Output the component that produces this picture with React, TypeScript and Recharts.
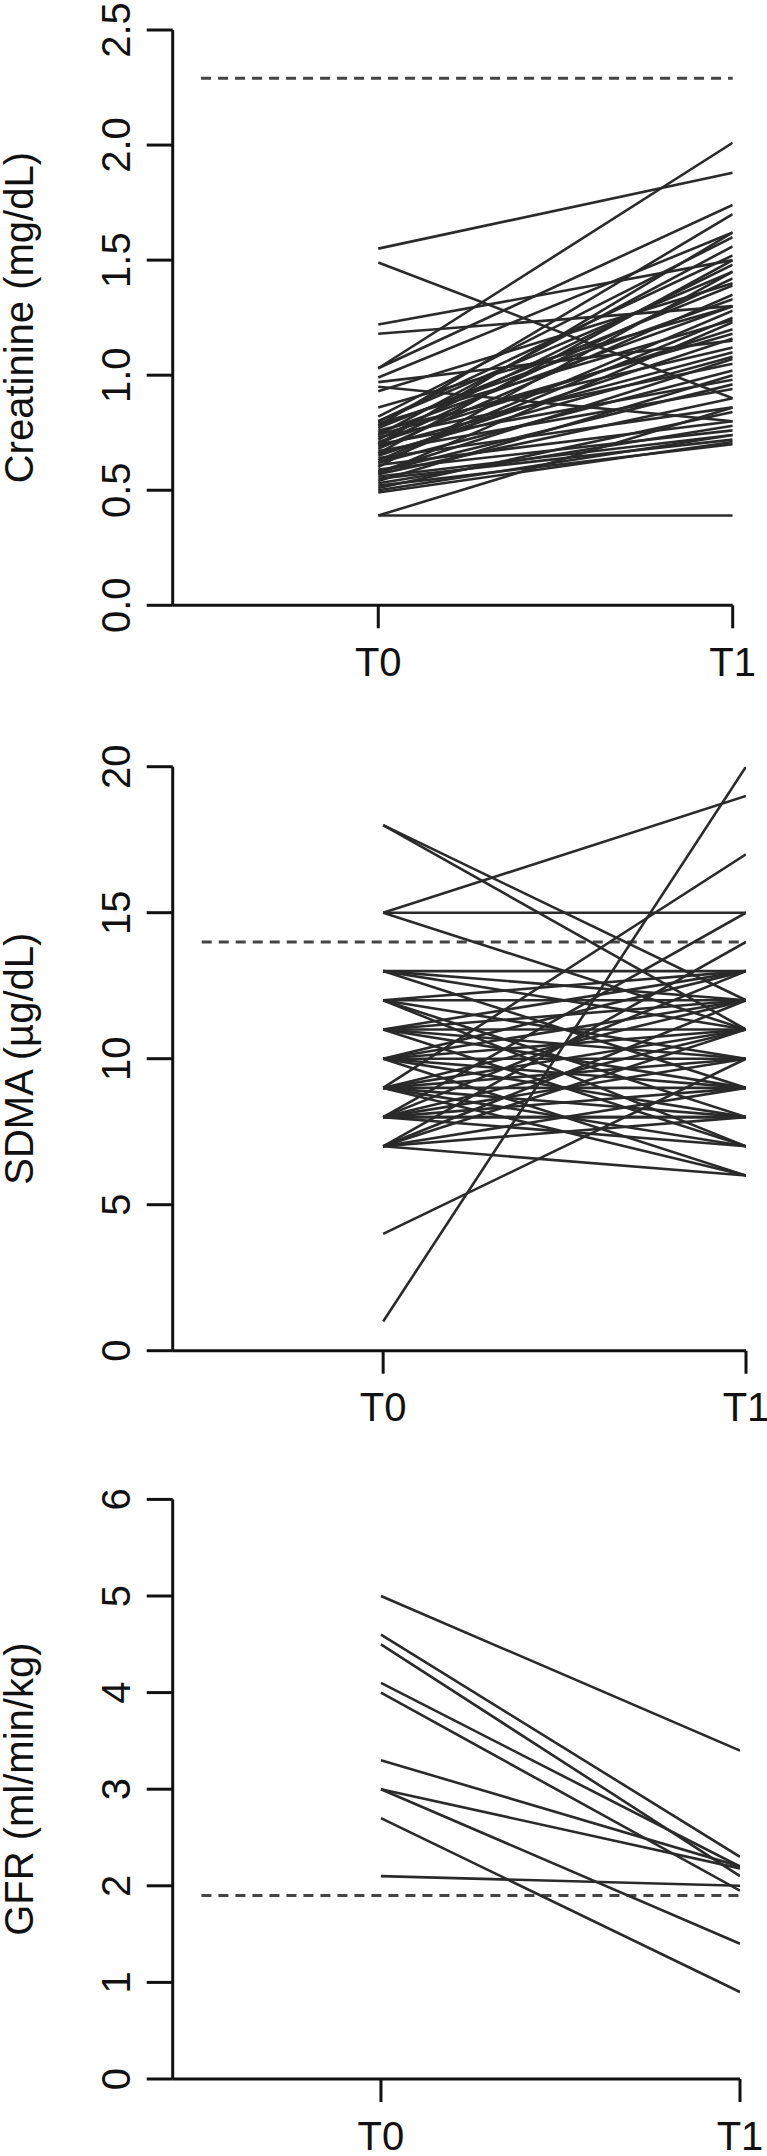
import React from 'react';
import { LineChart, Line, XAxis, YAxis, ReferenceLine } from 'recharts';

// ---- shared x categories ----
const timeTicks = [1, 2];
const timeLabels = ['T0', 'T1'];

// ---- Creatinine (mg/dL) ----
const creaT0 = [1.55, 1.49, 1.22, 1.18, 1.03, 1.03, 0.99, 0.97, 0.95, 0.93, 0.86, 0.82, 0.8, 0.8, 0.79, 0.78, 0.77, 0.76, 0.75, 0.74, 0.73, 0.72, 0.71, 0.7, 0.7, 0.69, 0.68, 0.67, 0.66, 0.65, 0.64, 0.63, 0.62, 0.61, 0.6, 0.59, 0.58, 0.57, 0.57, 0.56, 0.55, 0.54, 0.53, 0.52, 0.51, 0.5, 0.49, 0.39, 0.39, 0.78, 0.74, 0.7, 0.66, 0.62, 0.58];
const creaT1 = [1.88, 0.9, 1.5, 1.3, 2.01, 1.74, 1.62, 1.15, 0.8, 1.4, 1.3, 1.6, 1.52, 1.45, 1.24, 1.7, 1.39, 1.12, 1.3, 1.56, 1.05, 1.48, 1.2, 0.98, 1.62, 1.1, 1.35, 0.94, 1.5, 1.16, 0.86, 1.28, 1.02, 0.8, 1.45, 0.76, 1.07, 0.9, 1.23, 0.74, 0.72, 1.0, 0.78, 0.7, 0.84, 0.74, 0.71, 0.39, 0.86, 1.33, 1.18, 1.42, 1.08, 1.25, 0.96];
const creaTicks = [0, 0.5, 1, 1.5, 2, 2.5];
const creaRef = 2.29;

// ---- SDMA (µg/dL) ----
const sdmaT0 = [1, 4, 15, 15, 15, 18, 18, 9, 8, 7, 13, 13, 13, 13, 12, 12, 12, 12, 12, 11, 11, 11, 11, 11, 11, 10, 10, 10, 10, 10, 10, 10, 9, 9, 9, 9, 9, 9, 9, 8, 8, 8, 8, 8, 8, 8, 7, 7, 7, 7, 7];
const sdmaT1 = [20, 10, 19, 15, 11, 11, 12, 17, 15, 14, 13, 12, 11, 9, 13, 12, 10, 8, 7, 13, 11, 12, 10, 9, 7, 13, 12, 11, 10, 9, 8, 6, 12, 11, 10, 9, 8, 7, 6, 13, 11, 10, 9, 8, 8, 7, 12, 11, 9, 8, 6];
const sdmaTicks = [0, 5, 10, 15, 20];
const sdmaRef = 14;

// ---- GFR (ml/min/kg) ----
const gfrT0 = [5.0, 4.6, 4.5, 4.1, 4.0, 3.3, 3.0, 3.0, 2.7, 2.1];
const gfrT1 = [3.4, 2.3, 2.1, 2.2, 1.95, 2.2, 2.18, 1.4, 0.9, 2.0];
const gfrTicks = [0, 1, 2, 3, 4, 5, 6];
const gfrRef = 1.9;

const FONT = '"Liberation Sans", Arial, Helvetica, sans-serif';
const INK = '#111';

function buildRows(t0: number[], t1: number[]) {
  return timeTicks.map((x, k) => {
    const row: Record<string, number> = { x };
    (k === 0 ? t0 : t1).forEach((v, i) => {
      row['s' + i] = v;
    });
    return row;
  });
}

const XTick = (props: any) => {
  const { x, y, payload } = props;
  const idx = timeTicks.indexOf(payload.value);
  return (
    <text x={x} y={y + 47.7} textAnchor="middle" fontSize={40} fontFamily={FONT} fill={INK}>
      {timeLabels[idx]}
    </text>
  );
};

const makeYTick = (digits: number) => (props: any) => {
  const { x, y, payload } = props;
  const bx = x - 17;
  return (
    <text
      x={bx}
      y={y}
      transform={`rotate(-90 ${bx} ${y})`}
      textAnchor="middle"
      fontSize={40}
      fontFamily={FONT}
      fill={INK}
    >
      {Number(payload.value).toFixed(digits)}
    </text>
  );
};

const makeTitle = (title: string) => (props: any) => {
  const vb = props.viewBox || { x: 0, y: 0, width: 0, height: 0 };
  const tx = vb.x + 33.2;
  const ty = vb.y + vb.height / 2;
  return (
    <text
      x={tx}
      y={ty}
      transform={`rotate(-90 ${tx} ${ty})`}
      textAnchor="middle"
      fontSize={40}
      fontFamily={FONT}
      fill={INK}
    >
      {title}
    </text>
  );
};

type PanelProps = {
  top: number;
  height: number;
  mTop: number;
  mBottom: number;
  mRight: number;
  t0: number[];
  t1: number[];
  ticks: number[];
  refY: number;
  digits: number;
  title: string;
};

function Panel({ top, height, mTop, mBottom, mRight, t0, t1, ticks, refY, digits, title }: PanelProps) {
  const rows = buildRows(t0, t1);
  const yMax = ticks[ticks.length - 1];
  const axisStyle = { stroke: INK, strokeWidth: 3 };
  return (
    <div style={{ position: 'absolute', left: 0, top, width: 767, height }}>
      <LineChart
        width={767}
        height={height}
        data={rows}
        margin={{ top: mTop, right: mRight, bottom: mBottom, left: 0 }}
      >
        <XAxis
          dataKey="x"
          type="number"
          domain={[0.42, 2]}
          ticks={timeTicks}
          allowDataOverflow
          interval={0}
          height={70}
          tickSize={23}
          tickMargin={0}
          axisLine={axisStyle}
          tickLine={axisStyle}
          tick={XTick}
        />
        <YAxis
          type="number"
          domain={[0, yMax]}
          ticks={ticks}
          allowDataOverflow
          interval={0}
          width={172.7}
          tickSize={26}
          tickMargin={0}
          axisLine={axisStyle}
          tickLine={axisStyle}
          tick={makeYTick(digits)}
          label={{ content: makeTitle(title) }}
        />
        <ReferenceLine
          segment={[
            { x: 0.5, y: refY },
            { x: 2, y: refY },
          ]}
          stroke="#444"
          strokeWidth={3}
          strokeDasharray="10 7"
          ifOverflow="visible"
        />
        {t0.map((_, i) => (
          <Line
            key={i}
            dataKey={'s' + i}
            type="linear"
            stroke="#2a2a2a"
            strokeWidth={2.6}
            dot={false}
            activeDot={false}
            isAnimationActive={false}
          />
        ))}
      </LineChart>
    </div>
  );
}

export default function App() {
  return (
    <div
      style={{
        position: 'absolute',
        left: 0,
        top: 0,
        width: 767,
        height: 2156,
        background: '#fff',
        overflow: 'hidden',
      }}
    >
      <Panel
        top={0}
        height={700}
        mTop={30}
        mBottom={24.7}
        mRight={34.3}
        t0={creaT0}
        t1={creaT1}
        ticks={creaTicks}
        refY={creaRef}
        digits={1}
        title="Creatinine (mg/dL)"
      />
      <Panel
        top={700}
        height={740}
        mTop={66.7}
        mBottom={19.3}
        mRight={21}
        t0={sdmaT0}
        t1={sdmaT1}
        ticks={sdmaTicks}
        refY={sdmaRef}
        digits={0}
        title="SDMA (µg/dL)"
      />
      <Panel
        top={1440}
        height={716}
        mTop={59.4}
        mBottom={7}
        mRight={27}
        t0={gfrT0}
        t1={gfrT1}
        ticks={gfrTicks}
        refY={gfrRef}
        digits={0}
        title="GFR (ml/min/kg)"
      />
    </div>
  );
}
